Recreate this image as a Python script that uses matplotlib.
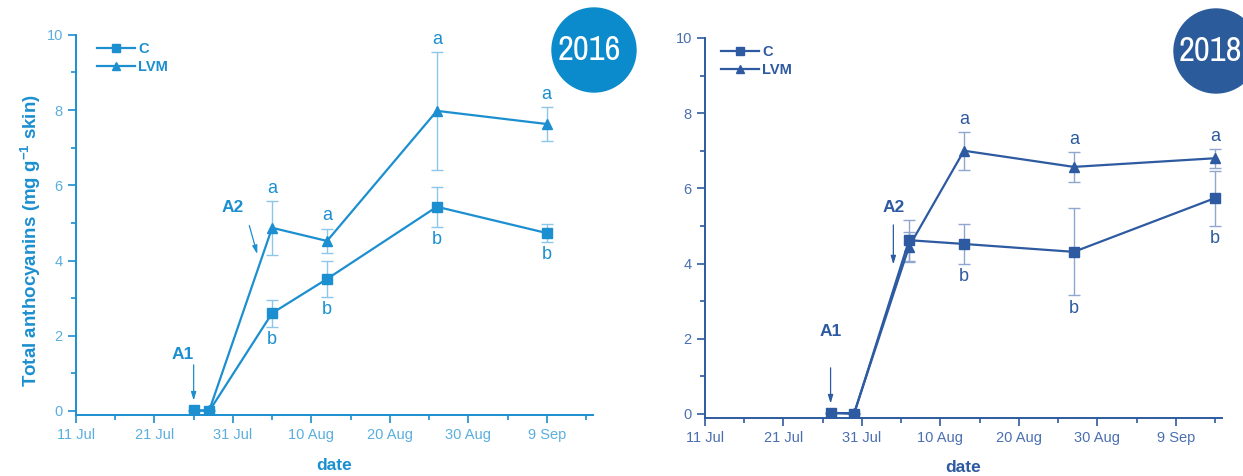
import matplotlib
matplotlib.use("Agg")
import matplotlib.pyplot as plt
import matplotlib.dates as mdates
from matplotlib.patches import Ellipse
from matplotlib.ticker import MultipleLocator, FuncFormatter, FixedLocator
from matplotlib import font_manager
import datetime as dt

plt.rcParams['font.family'] = ['Liberation Sans', 'DejaVu Sans']

# ---------------- data ----------------
dates_2016 = ["2016-07-26", "2016-07-28", "2016-08-05", "2016-08-12", "2016-08-26", "2016-09-09"]
c_2016 = [0.02, 0.0, 2.60, 3.51, 5.43, 4.73]
c_err_2016 = [0.0, 0.0, 0.36, 0.47, 0.53, 0.24]
lvm_2016 = [0.0, 0.02, 4.87, 4.52, 7.98, 7.63]
lvm_err_2016 = [0.0, 0.0, 0.72, 0.33, 1.57, 0.46]
letters_lvm_2016 = ["", "", "a", "a", "a", "a"]
letters_c_2016 = ["", "", "b", "b", "b", "b"]

dates_2018 = ["2018-07-27", "2018-07-30", "2018-08-06", "2018-08-13", "2018-08-27", "2018-09-14"]
c_2018 = [0.03, 0.0, 4.62, 4.52, 4.31, 5.74]
c_err_2018 = [0.0, 0.0, 0.55, 0.52, 1.16, 0.73]
lvm_2018 = [0.02, 0.02, 4.45, 7.00, 6.57, 6.80]
lvm_err_2018 = [0.0, 0.0, 0.40, 0.50, 0.40, 0.25]
letters_lvm_2018 = ["", "", "", "a", "a", "a"]
letters_c_2018 = ["", "", "", "b", "b", "b"]

series_labels = ["C", "LVM"]
x_start = {"2016": "2016-07-11", "2018": "2018-07-11"}
a1_2016, a2_2016 = "2016-07-26", "2016-08-02"
a1_2018, a2_2018 = "2018-07-27", "2018-08-04"
badge_texts = ["2016", "2018"]

fig = plt.figure(figsize=(12.43, 4.76), dpi=100)

# pick a condensed/narrow font for the badges if one is installed
narrow = None
for f in font_manager.fontManager.ttflist:
    nm = f.name.lower()
    if ("condensed" in nm or "narrow" in nm) and "italic" not in f.style:
        narrow = f.name
        break
if narrow is None:
    for f in font_manager.fontManager.ttflist:
        st = str(f.stretch).lower()
        if ("condensed" in st or st in ("100", "200", "300", "400")) and f.style == 'normal':
            narrow = f.name
            break


def fmt_date(x, pos):
    d = mdates.num2date(x)
    return f"{d.day} {d.strftime('%b')}"


def panel(rect, year, dates, c, ce, lvm, le, let_l, let_c, a1, a2, col, errcol, tickcol,
          a1_text, a2_text, a2_arrow, ylabel, legx):
    ax = fig.add_axes(rect)
    d = [dt.datetime.strptime(s, "%Y-%m-%d") for s in dates]
    x0 = dt.datetime.strptime(x_start[year], "%Y-%m-%d")
    ax.set_xlim(mdates.date2num(x0), mdates.date2num(x0) + 65.9)
    ax.set_ylim(-0.11, 10)
    ax.errorbar(d, lvm, yerr=le, color=col, ecolor=errcol, elinewidth=1.0, capsize=4,
                capthick=1.0, marker='^', markersize=7.5, lw=1.6, label=series_labels[1], zorder=3)
    ax.errorbar(d, c, yerr=ce, color=col, ecolor=errcol, elinewidth=1.0, capsize=4,
                capthick=1.0, marker='s', markersize=6.5, lw=1.6, label=series_labels[0], zorder=3)
    for xi, v, e, t in zip(d, lvm, le, let_l):
        if t:
            ax.annotate(t, (mdates.date2num(xi), v + e), xytext=(0, 3), textcoords='offset points',
                        ha='center', va='bottom', fontsize=13, color=col)
    for xi, v, e, t in zip(d, c, ce, let_c):
        if t:
            ax.annotate(t, (mdates.date2num(xi), v - e), xytext=(0, -3), textcoords='offset points',
                        ha='center', va='top', fontsize=13, color=col)
    a1x = mdates.date2num(dt.datetime.strptime(a1, "%Y-%m-%d"))
    ax.annotate("", xy=(a1x, 0.2), xytext=(a1x, 1.3),
                arrowprops=dict(arrowstyle='-|>,head_length=0.5,head_width=0.15', color=col, lw=0.9))
    ax.text(a1x + a1_text[0], a1_text[1], "A1", ha='center', va='bottom', fontsize=12.5,
            fontweight='bold', color=col)
    a2x = mdates.date2num(dt.datetime.strptime(a2, "%Y-%m-%d"))
    ax.annotate("", xy=(a2x + a2_arrow[0], a2_arrow[1]), xytext=(a2x, a2_arrow[2]),
                arrowprops=dict(arrowstyle='-|>,head_length=0.5,head_width=0.15', color=col, lw=0.9))
    ax.text(a2x + a2_text[0], a2_text[1], "A2", ha='center', va='bottom', fontsize=12.5,
            fontweight='bold', color=col)

    for s in ['top', 'right']:
        ax.spines[s].set_visible(False)
    for s in ['left', 'bottom']:
        ax.spines[s].set_color(col)
        ax.spines[s].set_linewidth(1.4)
    ax.yaxis.set_major_locator(MultipleLocator(2))
    ax.yaxis.set_minor_locator(MultipleLocator(1))
    ax.xaxis.set_major_locator(FixedLocator([mdates.date2num(x0) + k for k in range(0, 70, 10)]))
    ax.xaxis.set_minor_locator(FixedLocator([mdates.date2num(x0) + k for k in range(5, 70, 10)]))
    ax.xaxis.set_major_formatter(FuncFormatter(fmt_date))
    ax.tick_params(which='both', direction='out', color=col, labelcolor=tickcol, labelsize=10.5, width=1.2)
    ax.tick_params(which='major', length=6)
    ax.tick_params(which='minor', length=3.5)
    ax.set_xlabel("date", fontsize=12.5, fontweight='bold', color=col, labelpad=11)
    if ylabel:
        ax.set_ylabel("Total anthocyanins (mg g$^{\\mathregular{-1}}$ skin)", fontsize=13.5,
                      fontweight='bold', color=col)
        ax.yaxis.set_label_coords(-0.064, 0.46)
    h, l = ax.get_legend_handles_labels()
    h = [hh[0] for hh in h]
    leg = ax.legend(h[::-1], l[::-1], loc='upper left', bbox_to_anchor=(legx, 1.015), frameon=False,
                    handlelength=2.6, handletextpad=0.25, labelspacing=0.25,
                    prop=dict(weight='bold', size=10.5), markerscale=0.8)
    for t in leg.get_texts():
        t.set_color(col)
    return ax


col16 = "#1b8fd0"
col18 = "#2d5aa0"
ax1 = panel([0.0611, 0.128, 0.416, 0.7987], "2016", dates_2016, c_2016, c_err_2016, lvm_2016,
            lvm_err_2016, letters_lvm_2016, letters_c_2016, a1_2016, a2_2016, col16, "#8cc6ea",
            "#5aaede", (-1.4, 1.3), (-2.0, 5.2), (1.2, 4.1, 5.0), True, 0.015)
ax2 = panel([0.5672, 0.1218, 0.416, 0.7985], "2018", dates_2018, c_2018, c_err_2018, lvm_2018,
            lvm_err_2018, letters_lvm_2018, letters_c_2018, a1_2018, a2_2018, col18, "#8fa6cf",
            "#4a6fb0", (0.0, 2.0), (0.0, 5.3), (0.0, 3.9, 5.1), False, 0.005)

# badges
for (cx, cy, tx, colr), txt in zip([(594, 50, 589, "#0b8bcb"), (1216, 51, 1210, "#2b5b9b")], badge_texts):
    e = Ellipse((cx / 1243, 1 - cy / 476), 84 / 1243, 84 / 476, transform=fig.transFigure,
                color=colr, zorder=5)
    fig.add_artist(e)
    if narrow:
        fig.text(tx / 1243, 1 - cy / 476, txt, ha='center', va='center', color='white',
                 fontsize=25, family=[narrow, 'DejaVu Sans'], zorder=6)
    else:
        fig.text(tx / 1243, 1 - cy / 476, txt, ha='center', va='center', color='white',
                 fontsize=15, family=['Liberation Sans', 'DejaVu Sans'], zorder=6)

fig.savefig("out.png", dpi=100)
